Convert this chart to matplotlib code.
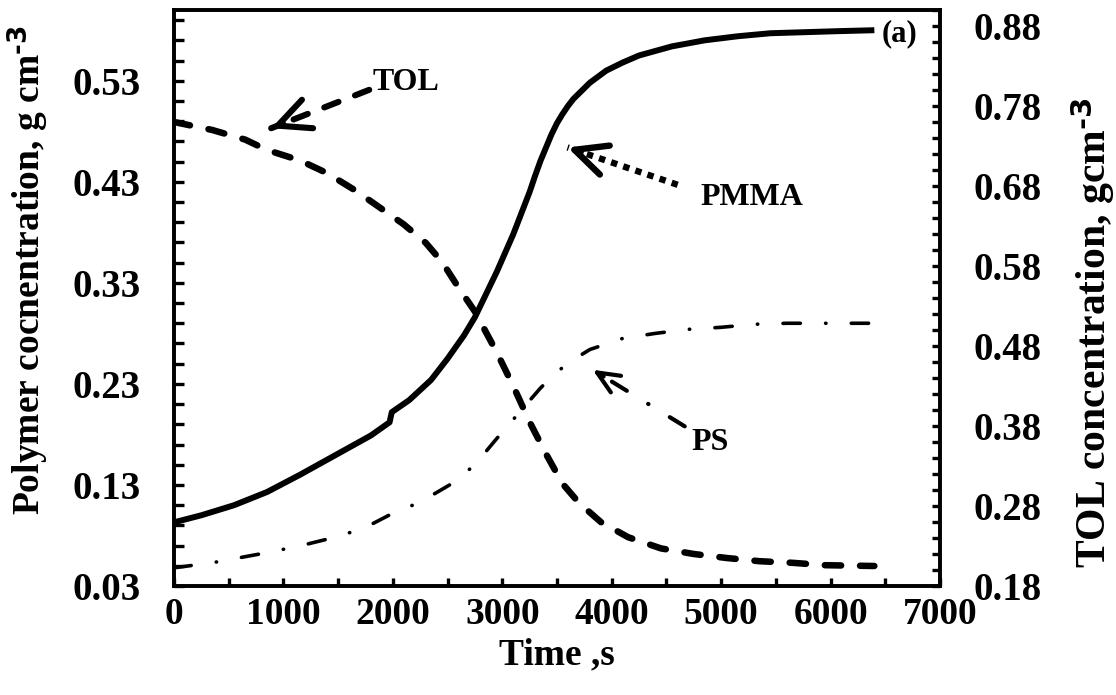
import numpy as np
import matplotlib
matplotlib.use("Agg")
import matplotlib.pyplot as plt
from matplotlib.ticker import FixedLocator, FormatStrFormatter, MultipleLocator

# Polymer concentrations (left axis, g cm^-3)
time_pmma = [0, 250, 550, 850, 1150, 1400, 1650, 1800, 1970, 1990, 2150, 2350,
             2500, 2650, 2750, 2950, 3100, 3250, 3300, 3350, 3400, 3450, 3500,
             3550, 3600, 3650, 3725, 3800, 3875, 3950, 4100, 4250, 4550, 4850,
             5150, 5450, 5750, 6050, 6400]
pmma = [0.093, 0.100, 0.110, 0.123, 0.140, 0.155, 0.170, 0.179, 0.192, 0.202,
        0.214, 0.234, 0.255, 0.278, 0.296, 0.341, 0.378, 0.420, 0.436, 0.451,
        0.464, 0.477, 0.488, 0.497, 0.505, 0.512, 0.520, 0.528, 0.534, 0.540,
        0.548, 0.555, 0.564, 0.570, 0.574, 0.577, 0.578, 0.579, 0.580]

time_ps = [0, 350, 600, 900, 1200, 1500, 1750, 2000, 2250, 2550, 2750, 2950,
           3350, 3500, 3650, 3800, 4100, 4400, 4700, 5000, 5300, 5600, 5900, 6400]
ps = [0.048, 0.053, 0.058, 0.064, 0.071, 0.079, 0.088, 0.102, 0.113, 0.132,
      0.150, 0.176, 0.226, 0.242, 0.254, 0.264, 0.275, 0.280, 0.284, 0.286,
      0.289, 0.290, 0.290, 0.290]

# Toluene concentration (right axis, g cm^-3)
time_tol = [0, 350, 650, 850, 1150, 1400, 1650, 1850, 2100, 2300, 2450, 2600,
            2750, 2950, 3100, 3250, 3400, 3550, 3700, 3900, 4150, 4450, 4750,
            5050, 5350, 5650, 5950, 6400]
tol = [0.760, 0.750, 0.738, 0.725, 0.712, 0.696, 0.675, 0.656, 0.632, 0.609,
       0.585, 0.553, 0.523, 0.472, 0.430, 0.385, 0.345, 0.308, 0.284, 0.260,
       0.241, 0.227, 0.220, 0.215, 0.211, 0.209, 0.206, 0.205]

x_ticks = np.arange(0, 7001, 1000)
left_major = np.round(np.arange(0.03, 0.531, 0.1), 2)
left_minor = np.round(np.arange(0.03, 0.601, 0.02), 2)
right_major = np.round(np.arange(0.18, 0.881, 0.1), 2)
right_minor = np.round(np.arange(0.18, 0.901, 0.02), 2)

plt.rcParams['font.family'] = ['Liberation Serif', 'DejaVu Serif']
plt.rcParams['font.weight'] = 'bold'
plt.rcParams['mathtext.default'] = 'regular'

W, H = 1116, 695
fig = plt.figure(figsize=(W / 100, H / 100), dpi=100)
ax = fig.add_axes([174 / W, 1 - 586 / H, 766 / W, 576 / H])
ax2 = ax.twinx()

ax.plot(time_pmma, pmma, color='black', lw=4.3, solid_capstyle='butt',
        solid_joinstyle='round')
ax.plot(time_ps, ps, color='black', lw=2.6, dashes=(4.8, 7, 0.1, 7),
        dash_capstyle='round')
ax2.plot(time_tol, tol, color='black', lw=4.7, dashes=(2.5, 2.9),
         dash_capstyle='round')

ax.set_xlim(0, 7000)
ax.set_ylim(0.03, 0.60)
ax2.set_ylim(0.18, 0.90)

ax.xaxis.set_major_locator(FixedLocator(x_ticks))
ax.xaxis.set_minor_locator(MultipleLocator(500))
ax.yaxis.set_major_locator(FixedLocator(left_major))
ax.yaxis.set_minor_locator(FixedLocator(left_minor))
ax.yaxis.set_major_formatter(FormatStrFormatter('%.2f'))
ax2.yaxis.set_major_locator(FixedLocator(right_major))
ax2.yaxis.set_minor_locator(FixedLocator(right_minor))
ax2.yaxis.set_major_formatter(FormatStrFormatter('%.2f'))

for a in (ax, ax2):
    for sp in a.spines.values():
        sp.set_linewidth(2.6)
ax.tick_params(axis='x', which='both', direction='in', length=6, width=2.4,
               labelsize=27, pad=8, top=False)
ax.tick_params(axis='y', which='both', direction='in', length=7, width=2.4,
               labelsize=28, pad=24, right=False)
ax2.tick_params(axis='y', which='both', direction='in', length=6, width=2.4,
                labelsize=28, pad=24)

ax.set_xlabel('Time ,s', fontsize=27, fontweight='bold', labelpad=4)
fig.text(29 / W, 1 - 270 / H, r'Polymer cocnentration, g cm$^{\text{-3}}$',
         rotation=90, ha='center', va='center', fontsize=27, fontweight='bold')
fig.text(1093 / W, 1 - 333 / H, r'TOL concentration, gcm$^{\text{-3}}$',
         rotation=90, ha='center', va='center', fontsize=30, fontweight='bold')


def pointer(tail, tip, lw, ls, capstyle, head_len, head_w):
    ax.annotate('', xy=tip, xytext=tail,
                arrowprops=dict(arrowstyle='-', lw=lw, linestyle=ls,
                                capstyle=capstyle, color='black',
                                shrinkA=0, shrinkB=0))
    near = (tip[0] + 0.12 * (tail[0] - tip[0]), tip[1] + 0.12 * (tail[1] - tip[1]))
    ax.annotate('', xy=tip, xytext=near,
                arrowprops=dict(arrowstyle=f'->,head_length={head_len},head_width={head_w}',
                                lw=lw, color='black', mutation_scale=1,
                                shrinkA=0, shrinkB=0))


pointer((1784, 0.521), (888, 0.483), 4.4, (0, (2.5, 2.9)), 'round', 23, 11)
pointer((4603, 0.427), (3596, 0.464), 4.6, (0, (1, 1)), 'butt', 23, 11)
pointer((4667, 0.188), (3825, 0.244), 3.0, (0, (4.2, 6, 0.1, 6)), 'round', 16, 7)

ax.text(2123, 0.528, 'TOL', ha='center', va='center', fontsize=23, fontweight='bold')
ax.text(5280, 0.414, 'PMMA', ha='center', va='center', fontsize=23, fontweight='bold')
ax.text(4895, 0.1725, 'PS', ha='center', va='center', fontsize=23, fontweight='bold')
ax.text(6634, 0.577, '(a)', ha='center', va='center', fontsize=22, fontweight='bold')

fig.savefig('out.png', dpi=100)
